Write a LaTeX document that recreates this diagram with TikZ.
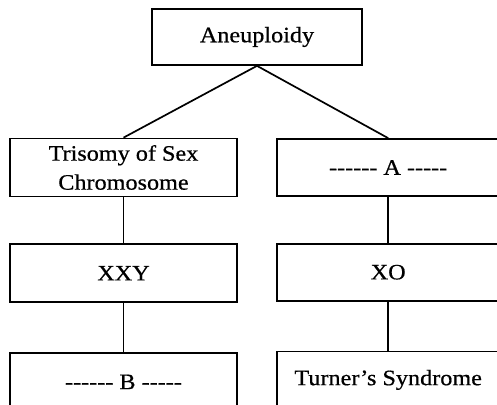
\documentclass[tikz,border=0pt]{standalone}
\usepackage{fontspec}
\setmainfont{Liberation Serif}[FakeStretch=1.1, FakeBold=0.6]
\usepackage{tikz}
\usetikzlibrary{positioning}

\begin{document}
\begin{tikzpicture}[
    x=1pt, y=-1pt,
    node distance=46pt,
    box/.style={rectangle, draw=black, line width=1.7pt, fill=white, align=center, inner sep=0pt,
      font=\fontsize{22}{29}\selectfont},
    wbox/.style={box, minimum width=227pt, minimum height=58pt},
    rbox/.style={box, minimum width=223pt, minimum height=57pt},
    link/.style={line width=1.7pt},
  ]
  \useasboundingbox (0,0) rectangle (497,404);

  \node[box, minimum width=210pt, minimum height=56pt] (aneu) at (257,37) {Aneuploidy};
  \node[wbox] (tris) at (123.5,167.5) {Trisomy of Sex\\Chromosome};
  \node[rbox, right=38pt of tris] (typeA) {-{}-{}-{}-{}-{}- A -{}-{}-{}-{}-};
  \node[wbox, below=of tris] (xxy) {XXY};
  \node[rbox, below=of typeA] (xo) {XO};
  \node[wbox, below=49pt of xxy] (typeB) {-{}-{}-{}-{}-{}- B -{}-{}-{}-{}-};
  \node[rbox, below=49pt of xo] (turner) {Turner's Syndrome};

  \draw[link] (aneu.south) -- (tris.north);
  \draw[link] (aneu.south) -- (typeA.north);
  \draw[link] (tris) -- (xxy);
  \draw[link] (xxy) -- (typeB);
  \draw[link] (typeA) -- (xo);
  \draw[link] (xo) -- (turner);

\end{tikzpicture}
\end{document}
